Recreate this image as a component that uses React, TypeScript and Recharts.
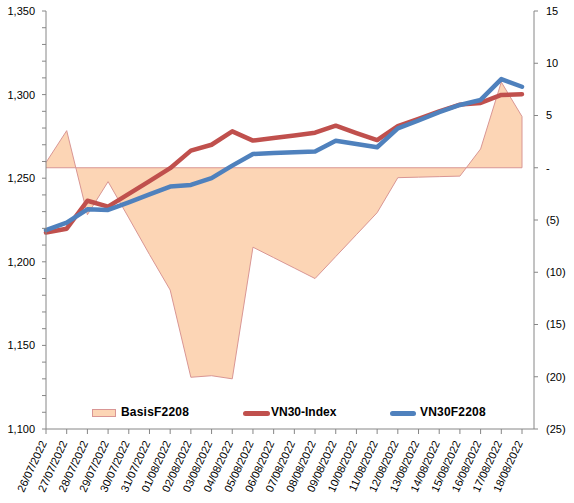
import React from 'react';
import { ComposedChart, XAxis, YAxis, Line, Area, ReferenceLine } from 'recharts';

const dates = [
  '26/07/2022', '27/07/2022', '28/07/2022', '29/07/2022', '30/07/2022', '31/07/2022',
  '01/08/2022', '02/08/2022', '03/08/2022', '04/08/2022', '05/08/2022', '06/08/2022',
  '07/08/2022', '08/08/2022', '09/08/2022', '10/08/2022', '11/08/2022', '12/08/2022',
  '13/08/2022', '14/08/2022', '15/08/2022', '16/08/2022', '17/08/2022', '18/08/2022',
];

const vn30Index = [
  1217.5, 1219.8, 1236.5, 1233, 1240.6, 1248.3, 1256, 1266.5, 1270, 1278, 1272.5, 1274,
  1275.6, 1277.2, 1281.4, 1277, 1272.8, 1281.2, 1285.5, 1290, 1294, 1295, 1299.8, 1300.2,
];

const vn30F2208 = [
  1219, 1223.4, 1231.4, 1231, 1235.6, 1240.3, 1245, 1246, 1250, 1257.5, 1264.5, 1265,
  1265.5, 1266, 1272.4, 1270.5, 1268.5, 1279.8, 1284.5, 1289.5, 1293.8, 1296.8, 1309.3, 1304.7,
];

const basisF2208 = [
  0.5, 3.55, -4.5, -1.33, -4.8, -8.3, -11.7, -20.05, -19.9, -20.2, -7.6, -8.6,
  -9.6, -10.6, -8.5, -6.4, -4.3, -0.95, -0.9, -0.85, -0.8, 1.8, 8.2, 4.9,
];

const leftTicks = [
  1100, 1110, 1120, 1130, 1140, 1150, 1160, 1170, 1180, 1190, 1200, 1210, 1220,
  1230, 1240, 1250, 1260, 1270, 1280, 1290, 1300, 1310, 1320, 1330, 1340, 1350,
];
const rightTicks = [-25, -20, -15, -10, -5, 0, 5, 10, 15];

const data = dates.map((d, i) => ({
  date: d,
  vn30: vn30Index[i],
  vn30f: vn30F2208[i],
  basis: basisF2208[i],
}));

const FONT = '"Liberation Sans", Arial, sans-serif';
const AXIS = '#868686';
const RED = '#C0504D';
const BLUE = '#4F81BD';
const AREA_FILL = '#FCD5B5';
const AREA_STROKE = '#D99694';

const fmtLeft = (v: number) => (v % 50 === 0 ? v.toLocaleString('en-US') : '');
const fmtRight = (v: number) => (v === 0 ? '-' : v < 0 ? `(${-v})` : `${v}`);

const DateTick = (props: any) => {
  const { x, y, payload } = props;
  const ax = x + 1;
  const ay = y + 7;
  return (
    <text
      x={ax}
      y={ay}
      transform={`rotate(-65, ${ax}, ${ay})`}
      textAnchor="end"
      fontSize={11}
      fontFamily={FONT}
      fill="#000"
    >
      {payload.value}
    </text>
  );
};

const legendText: React.CSSProperties = {
  position: 'absolute',
  fontFamily: FONT,
  fontSize: 12,
  fontWeight: 'bold',
  color: '#000',
  top: 405,
  lineHeight: '14px',
  whiteSpace: 'nowrap',
};

export default function App() {
  const last = dates.length - 1;
  return (
    <div style={{ position: 'absolute', left: 0, top: 0, width: 574, height: 503, background: '#fff' }}>
      <ComposedChart width={574} height={503} data={data} margin={{ top: 11, right: 0, bottom: 0, left: 0 }}>
        <XAxis
          dataKey="date"
          scale="point"
          padding={{ left: 0, right: 12 }}
          height={74}
          tickSize={5}
          interval={0}
          tick={<DateTick />}
          axisLine={{ stroke: AXIS }}
          tickLine={{ stroke: AXIS }}
        />
        <YAxis
          yAxisId="left"
          orientation="left"
          width={46}
          domain={[1100, 1350]}
          ticks={leftTicks}
          interval={0}
          tickFormatter={fmtLeft}
          tickSize={4}
          tickMargin={7}
          axisLine={{ stroke: AXIS }}
          tickLine={{ stroke: AXIS }}
          tick={{ fill: '#000', fontSize: 11, fontFamily: FONT }}
        />
        <YAxis
          yAxisId="right"
          orientation="right"
          width={40}
          domain={[-25, 15]}
          ticks={rightTicks}
          interval={0}
          tickFormatter={fmtRight}
          tickSize={4}
          tickMargin={8}
          axisLine={{ stroke: AXIS }}
          tickLine={{ stroke: AXIS }}
          tick={{ fill: '#000', fontSize: 11, fontFamily: FONT, textAnchor: 'start' }}
        />
        <Area
          yAxisId="right"
          type="linear"
          dataKey="basis"
          name="BasisF2208"
          baseValue={0}
          fill={AREA_FILL}
          fillOpacity={1}
          stroke={AREA_STROKE}
          strokeWidth={1}
          isAnimationActive={false}
        />
        <ReferenceLine
          yAxisId="right"
          segment={[{ x: dates[0], y: 0 }, { x: dates[last], y: 0 }]}
          stroke={AREA_STROKE}
          strokeWidth={1}
        />
        <ReferenceLine
          yAxisId="right"
          segment={[{ x: dates[last], y: 0 }, { x: dates[last], y: basisF2208[last] }]}
          stroke={AREA_STROKE}
          strokeWidth={1}
        />
        <Line
          yAxisId="left"
          type="linear"
          dataKey="vn30"
          name="VN30-Index"
          stroke={RED}
          strokeWidth={4.5}
          strokeLinejoin="round"
          strokeLinecap="round"
          dot={false}
          activeDot={false}
          isAnimationActive={false}
        />
        <Line
          yAxisId="left"
          type="linear"
          dataKey="vn30f"
          name="VN30F2208"
          stroke={BLUE}
          strokeWidth={4.5}
          strokeLinejoin="round"
          strokeLinecap="round"
          dot={false}
          activeDot={false}
          isAnimationActive={false}
        />
      </ComposedChart>
      <div
        style={{
          position: 'absolute',
          left: 92,
          top: 409,
          width: 22,
          height: 6,
          background: AREA_FILL,
          border: `1px solid ${AREA_STROKE}`,
        }}
      />
      <div style={{ ...legendText, left: 121, letterSpacing: 0.2 }}>BasisF2208</div>
      <div
        style={{
          position: 'absolute',
          left: 243,
          top: 410.5,
          width: 27,
          height: 5,
          borderRadius: 2.5,
          background: RED,
        }}
      />
      <div style={{ ...legendText, left: 271 }}>VN30-Index</div>
      <div
        style={{
          position: 'absolute',
          left: 390,
          top: 410.5,
          width: 26,
          height: 5,
          borderRadius: 2.5,
          background: BLUE,
        }}
      />
      <div style={{ ...legendText, left: 420, letterSpacing: 0.2 }}>VN30F2208</div>
    </div>
  );
}
